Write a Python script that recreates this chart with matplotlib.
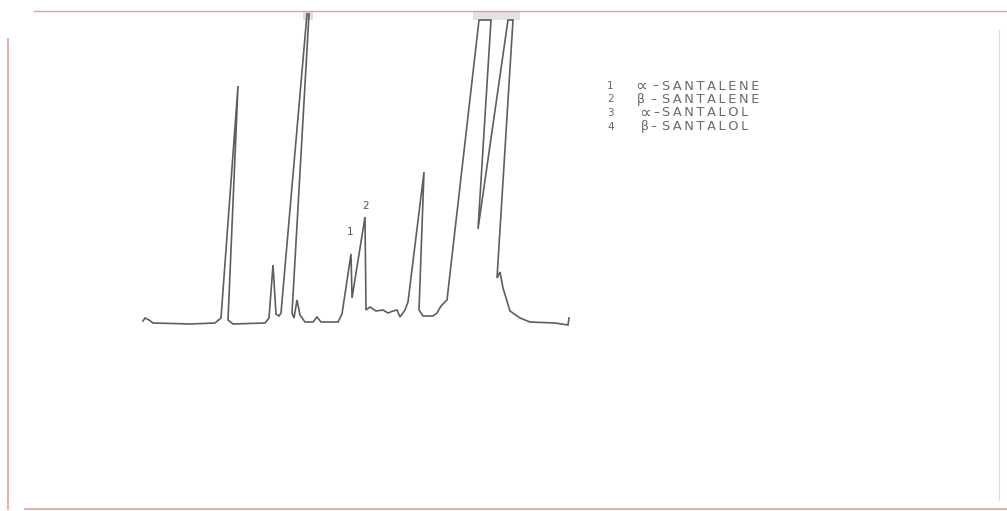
import matplotlib.pyplot as plt
from matplotlib.lines import Line2D

# chart recorder trace: retention (mm of chart from start) vs pen deflection (mm above baseline)
retention = [0, 2, 6, 10, 47, 72, 78, 95, 85, 90, 122, 126, 130, 133, 136, 138,
             164, 166, 149, 151, 154, 157, 162, 170, 174, 178, 195, 199, 208, 209,
             222, 223, 227, 233, 240, 245, 250, 254, 257, 262, 265, 281, 276, 280,
             290, 294, 298, 304, 336, 348, 335, 365, 370, 354, 357, 360, 367, 377,
             387, 412, 425, 426]
deflection = [4, 7, 5, 2, 1, 2, 7, 239, 5, 1, 2, 7, 60, 11, 9, 12,
              311, 311, 12, 7, 25, 10, 3, 3, 8, 3, 3, 11, 71, 27,
              108, 15, 18, 14, 15, 12, 14, 15, 8, 15, 23, 153, 15, 9,
              9, 12, 19, 25, 305, 305, 96, 305, 305, 47, 53, 37, 14, 7,
              3, 2, 0, 7]

peak_labels = ['1', '2']
peak_label_pos = [(207, 88), (223, 114)]

legend_nums = ['1', '2', '3', '4']
legend_greek = ['\u221d', '\u03b2', '\u221d', '\u03b2']
legend_names = ['SANTALENE', 'SANTALENE', 'SANTALOL', 'SANTALOL']

trace_color = '#5e5e5e'
paper_red = '#ec9a9a'
legend_color = '#6a6a6a'

fig = plt.figure(figsize=(10.07, 5.11), dpi=100)
fig.patch.set_facecolor('white')
ax = fig.add_axes([0, 0, 1, 1])
ax.set_xlim(-143, 864)
ax.set_ylim(-186, 325)
ax.axis('off')

ax.plot(retention, deflection, color=trace_color, lw=1.2, solid_joinstyle='miter')

# smudge where pen hit the top of the chart
top_lo, top_hi = (325 - 20 + 186) / 511, (325 - 11 + 186) / 511
ax.axvspan(160, 170, ymin=top_lo, ymax=top_hi, color='#d0d0d0', lw=0, alpha=0.7)
ax.axvspan(330, 377, ymin=top_lo, ymax=top_hi, color='#d8d8d8', lw=0, alpha=0.7)

for lab, (x, y) in zip(peak_labels, peak_label_pos):
    ax.text(x, y, lab, fontsize=7.5, color='#555555', ha='center', va='bottom')

# legend drawn like the stencilled key on the chart
greek_x = [0.631, 0.632, 0.635, 0.636]
greek_size = [12, 9, 12, 9]
dash_x = [0.648, 0.646, 0.649, 0.646]
for i, (n, g, name) in enumerate(zip(legend_nums, legend_greek, legend_names)):
    y = 1 - (86 + i * 13.5) / 511
    fig.text(0.603, y, n, fontsize=7.5, color=legend_color, va='center')
    fig.text(greek_x[i], y, g, fontsize=greek_size[i], color=legend_color, va='center')
    fig.text(dash_x[i], y, '\u2013', fontsize=8.5, color=legend_color, va='center')
    fig.text(0.657, y, '\u2009'.join(name), fontsize=9.3, color=legend_color, va='center')

# edges of the scanned chart paper
fig.add_artist(Line2D([34 / 1007, 1], [1 - 11 / 511] * 2, color=paper_red, lw=1.0))
fig.add_artist(Line2D([8 / 1007] * 2, [1 - 39 / 511, 1 - 509 / 511], color=paper_red, lw=1.2))
fig.add_artist(Line2D([25 / 1007, 1], [1 - 509 / 511] * 2, color=paper_red, lw=1.2))
fig.add_artist(Line2D([999 / 1007] * 2, [1 - 30 / 511, 1 - 500 / 511], color='#dddddd', lw=0.8))

fig.savefig('out.png', dpi=100, facecolor='white')
